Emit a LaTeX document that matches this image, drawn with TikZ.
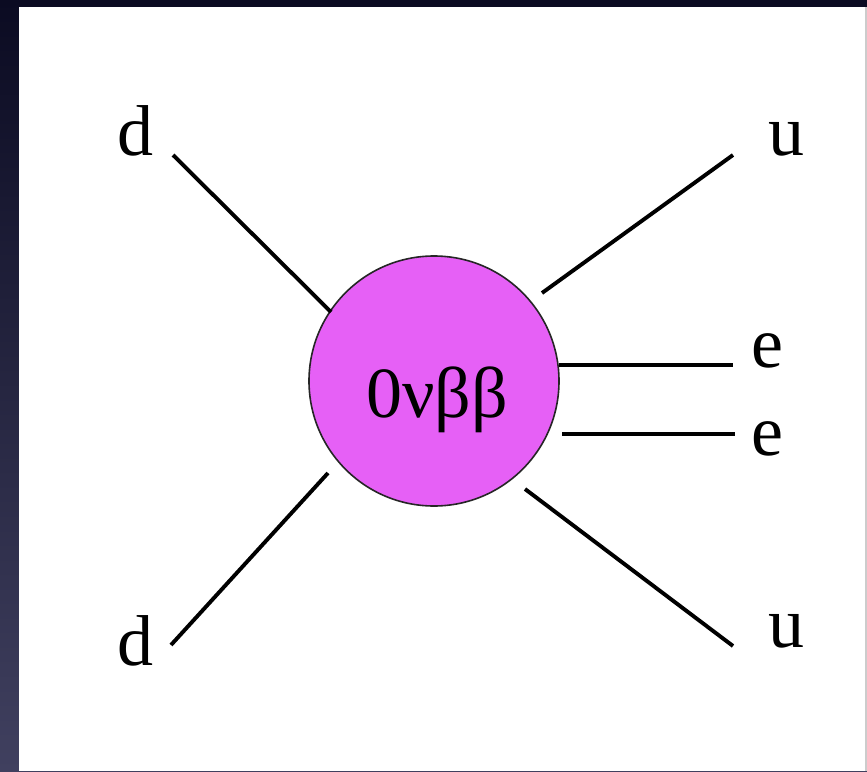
\documentclass[tikz,border=0pt]{standalone}
\usepackage{fontspec}
\setmainfont{Liberation Serif}
\begin{document}
\begin{tikzpicture}[x=1pt,y=-1pt,
  leg/.style={line width=3.9pt,black},
  lbl/.style={anchor=base,inner sep=0pt,font=\fontsize{72}{80}\selectfont},
  blobstyle/.style={circle,draw=black!85,line width=1.6pt,fill=blobcol,minimum size=250pt,inner sep=0pt}]
\definecolor{blobcol}{HTML}{E660F6}
\definecolor{bgtop}{HTML}{0B0B22}
\definecolor{bgbot}{HTML}{40405F}
\useasboundingbox (0,0) rectangle (867,771);
\shade[top color=bgtop,bottom color=bgbot] (0,0) rectangle (867,771);
\fill[white] (19,7) rectangle (866,771);
\fill[black!20] (865,7) rectangle (867,771);
% central blob
\node[blobstyle] (blob) at (434,381) {};
\node[lbl] (name) at (437,417) {0νββ};
% labels
\node[lbl] (d1) at (135,155) {d};
\node[lbl] (u1) at (786,155) {u};
\node[lbl] (e1) at (767,367) {e};
\node[lbl] (e2) at (767,455) {e};
\node[lbl] (d2) at (135,665) {d};
\node[lbl] (u2) at (786,647) {u};
% line endpoints
\coordinate (d1a) at (173,155);
\coordinate (d1b) at (331,312);
\coordinate (u1a) at (733,155);
\coordinate (u1b) at (542,293);
\coordinate (e1a) at (559,365);
\coordinate (e1b) at (733,365);
\coordinate (e2a) at (562,434);
\coordinate (e2b) at (735,434);
\coordinate (d2a) at (171,645);
\coordinate (d2b) at (328,473);
\coordinate (u2a) at (525,489);
\coordinate (u2b) at (733,646);
\draw[leg] (d1a) -- (d1b);
\draw[leg] (u1b) -- (u1a);
\draw[leg] (e1a) -- (e1b);
\draw[leg] (e2a) -- (e2b);
\draw[leg] (d2a) -- (d2b);
\draw[leg] (u2a) -- (u2b);
\end{tikzpicture}
\end{document}
